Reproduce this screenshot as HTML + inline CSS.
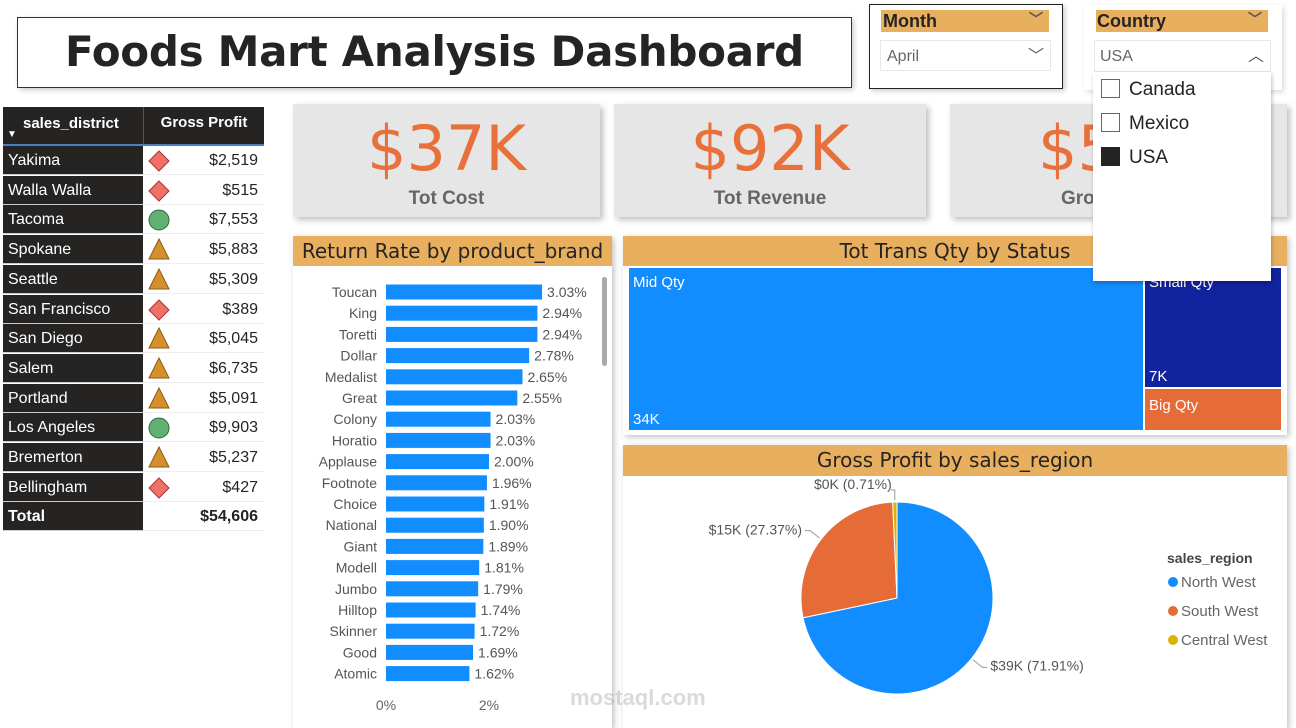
<!DOCTYPE html>
<html><head><meta charset="utf-8"><style>
*{box-sizing:border-box;margin:0;padding:0}
body{width:1296px;height:728px;position:relative;background:#fff;font-family:"Liberation Sans","DejaVu Sans",sans-serif;overflow:hidden}
.abs{position:absolute}
.card{position:absolute;background:#e6e6e6;box-shadow:3px 3px 6px rgba(0,0,0,.25)}
.kv{position:absolute;left:0;right:0;top:8px;text-align:center;color:#E8703A;font-size:62px;font-family:"DejaVu Sans",sans-serif}
.kl{position:absolute;left:0;right:0;top:84px;text-align:center;color:#666;font-size:19px;font-weight:bold}
.hdr{position:absolute;background:#E8AF5F;color:#252423;font-size:20px;text-align:center;line-height:30px;font-family:"DejaVu Sans",sans-serif}
.panel{position:absolute;background:#fff;box-shadow:2px 2px 6px rgba(0,0,0,.25)}
.row{position:absolute;left:0;width:261px;height:30px;font-size:16px}
.rl{position:absolute;left:0;width:140px;height:29px;background:#252423;color:#fff;padding-left:5px;line-height:29px;border-bottom:1px solid #ccc}
.rr{position:absolute;left:140px;width:121px;height:29px;background:#fff;color:#252423;text-align:right;padding-right:6px;line-height:29px;border-bottom:1px solid #eee}
</style></head><body>
<div class="abs" style="left:17px;top:17px;width:835px;height:71px;border:1px solid #333;box-shadow:2px 2px 5px rgba(0,0,0,.2);text-align:center;line-height:68px;font-size:42px;font-weight:bold;color:#252423;font-family:'DejaVu Sans',sans-serif;letter-spacing:-0.3px">Foods Mart Analysis Dashboard</div>

<div class="abs" style="left:869px;top:4px;width:194px;height:85px;border:1px solid #222;box-shadow:2px 2px 5px rgba(0,0,0,.2);background:#fff">
 <div class="abs" style="left:11px;top:5px;width:168px;height:22px;background:#E8AF5F;font-weight:bold;font-size:18px;line-height:22px;padding-left:2px;color:#252423">Month<span style="position:absolute;right:6px;top:-2px;font-size:14px;color:#555">﹀</span></div>
 <div class="abs" style="left:10px;top:35px;width:171px;height:31px;border:1px solid #e8e8e8;color:#666;font-size:16px;line-height:31px;padding-left:6px">April<span style="position:absolute;right:6px;top:0;color:#555">﹀</span></div>
</div>

<div class="abs" style="left:1084px;top:5px;width:198px;height:85px;background:#fff;box-shadow:2px 2px 5px rgba(0,0,0,.15)">
 <div class="abs" style="left:12px;top:5px;width:172px;height:22px;background:#E8AF5F;font-weight:bold;font-size:18px;line-height:22px;padding-left:1px;color:#252423">Country<span style="position:absolute;right:6px;top:-2px;font-size:14px;color:#555">﹀</span></div>
 <div class="abs" style="left:10px;top:35px;width:177px;height:32px;border:1px solid #e8e8e8;color:#666;font-size:16px;line-height:32px;padding-left:5px">USA<span style="position:absolute;right:6px;top:0;color:#555">︿</span></div>
</div>

<div class="card" style="left:293px;top:104px;width:307px;height:113px"><div class="kv">$37K</div><div class="kl">Tot Cost</div></div>
<div class="card" style="left:614px;top:104px;width:312px;height:113px"><div class="kv">$92K</div><div class="kl">Tot Revenue</div></div>
<div class="card" style="left:950px;top:104px;width:337px;height:113px"><div class="kv" style="text-align:left;left:88px">$5</div><div class="kl" style="text-align:left;left:111px">Gro</div></div>

<div class="abs" id="tbl" style="left:3px;top:107px;width:261px;height:424px;background:#fff">
 <div class="abs" style="left:0;top:0;width:261px;height:39px;background:#252423;color:#fff;font-weight:bold;font-size:15px;border-bottom:2px solid #4a7fc1">
  <div class="abs" style="left:20px;top:8px">sales_district</div>
  <div class="abs" style="left:4px;top:22px;font-size:10px">▼</div>
  <div class="abs" style="left:140px;top:0;width:121px;height:37px;border-left:1px solid #555;text-align:center;line-height:32px">Gross Profit</div>
 </div>
</div>

<div class="panel" style="left:293px;top:236px;width:319px;height:492px">
 <div class="hdr" style="left:0;top:0;width:319px;height:30px">Return Rate by product_brand</div>
 <div class="abs" style="left:309px;top:41px;width:5px;height:89px;background:#aaa;border-radius:3px"></div>
 <svg class="abs" id="bars" style="left:0;top:0" width="319" height="492"></svg>
</div>

<div class="panel" style="left:623px;top:236px;width:664px;height:199px">
 <div class="hdr" style="left:0;top:0;width:664px;height:30px">Tot Trans Qty by Status</div>
 <div class="abs" style="left:6px;top:32px;width:514px;height:162px;background:#118DFF;color:#fff;font-size:15px"><span class="abs" style="left:4px;top:6px">Mid Qty</span><span class="abs" style="left:4px;bottom:2px">34K</span></div>
 <div class="abs" style="left:522px;top:32px;width:136px;height:119px;background:#12239E;color:#fff;font-size:15px"><span class="abs" style="left:4px;top:6px">Small Qty</span><span class="abs" style="left:4px;bottom:2px">7K</span></div>
 <div class="abs" style="left:522px;top:153px;width:136px;height:41px;background:#E66C37;color:#fff;font-size:15px"><span class="abs" style="left:4px;top:8px">Big Qty</span></div>
</div>

<div class="panel" style="left:623px;top:445px;width:664px;height:283px">
 <div class="hdr" style="left:0;top:0;width:664px;height:31px">Gross Profit by sales_region</div>
 <svg class="abs" id="pie" style="left:0;top:0" width="664" height="283"></svg>
</div>

<div class="abs" style="left:1093px;top:72px;width:178px;height:209px;background:#fff;box-shadow:1px 2px 4px rgba(0,0,0,.25);font-size:19px;color:#252423;z-index:10">
 <div class="abs" style="left:8px;top:7px"><span style="display:inline-block;width:19px;height:19px;border:1px solid #666;vertical-align:-3px;margin-right:9px"></span>Canada</div>
 <div class="abs" style="left:8px;top:41px"><span style="display:inline-block;width:19px;height:19px;border:1px solid #666;vertical-align:-3px;margin-right:9px"></span>Mexico</div>
 <div class="abs" style="left:8px;top:75px"><span style="display:inline-block;width:19px;height:19px;background:#252423;vertical-align:-3px;margin-right:9px"></span>USA</div>
</div>
<div class="abs" style="left:570px;top:685px;color:rgba(150,150,150,.35);font-size:22px;font-weight:bold">mostaql.com</div>

<script>
const districts=["Yakima","Walla Walla","Tacoma","Spokane","Seattle","San Francisco","San Diego","Salem","Portland","Los Angeles","Bremerton","Bellingham"];
const profits=[2519,515,7553,5883,5309,389,5045,6735,5091,9903,5237,427];
const total=54606;
const brands=["Toucan","King","Toretti","Dollar","Medalist","Great","Colony","Horatio","Applause","Footnote","Choice","National","Giant","Modell","Jumbo","Hilltop","Skinner","Good","Atomic"];
const rates=[3.03,2.94,2.94,2.78,2.65,2.55,2.03,2.03,2.00,1.96,1.91,1.90,1.89,1.81,1.79,1.74,1.72,1.69,1.62];
const xTicks=[0,2];
const regions=["North West","South West","Central West"];
const regionValues=[39,15,0.39];
const regionLabels=["$39K (71.91%)","$15K (27.37%)","$0K (0.71%)"];
const regionColors=["#118DFF","#E66C37","#D9B300"];
const NS="http://www.w3.org/2000/svg";
function mk(p,t,a){const e=document.createElementNS(NS,t);for(const k in a)e.setAttribute(k,a[k]);p.appendChild(e);return e;}
const tbl=document.getElementById('tbl');
function icon(v){if(v>=7000)return '<svg width="22" height="22" style="position:absolute;left:5px;top:4px"><circle cx="11" cy="11" r="10" fill="#5fb173" stroke="#2e6b3c"/></svg>';
 if(v>=3000)return '<svg width="22" height="22" style="position:absolute;left:5px;top:3px"><polygon points="11,1 21,21 1,21" fill="#d6902b" stroke="#8a5b14"/></svg>';
 return '<svg width="22" height="22" style="position:absolute;left:5px;top:4px"><polygon points="11,1 21,11 11,21 1,11" fill="#f07166" stroke="#a33"/></svg>';}
districts.forEach((d,i)=>{const r=document.createElement('div');r.className='row';r.style.top=(39+i*29.7)+'px';


r.innerHTML='<div class="rl">'+d+'</div><div class="rr">'+icon(profits[i])+'$'+profits[i].toLocaleString('en-US')+'</div>';tbl.appendChild(r);});
const tr=document.createElement('div');tr.className='row';tr.style.top=(39+12*29.7)+'px';


tr.innerHTML='<div class="rl" style="font-weight:bold">Total</div><div class="rr" style="font-weight:bold">$'+total.toLocaleString('en-US')+'</div>';tbl.appendChild(tr);
const bs=document.getElementById('bars');
const x0=93,pxPer=51.5;const xs=v=>x0+v*pxPer;const ys=i=>56+i*21.2;
brands.forEach((b,i)=>{
 const r=mk(bs,'rect',{x:x0,y:ys(i)-7.5,width:xs(rates[i])-x0,height:15,fill:'#118DFF'});
 
 
 const t=mk(bs,'text',{x:84,y:ys(i)+5,'text-anchor':'end','font-size':14,fill:'#555'});t.textContent=b;
 const v=mk(bs,'text',{x:xs(rates[i])+5,y:ys(i)+5,'font-size':14,fill:'#555'});v.textContent=rates[i].toFixed(2)+'%';
});
xTicks.forEach(tk=>{const t=mk(bs,'text',{x:xs(tk),y:474,'text-anchor':'middle','font-size':14,fill:'#666'});t.textContent=tk+'%';

});
const ps=document.getElementById('pie');
const cx=274,cy=153,R=96;const sum=regionValues.reduce((a,b)=>a+b,0);
let a0=0;const pt=(a,r)=>[cx+r*Math.sin(a),cy-r*Math.cos(a)];
regionValues.forEach((v,i)=>{const a1=a0+v/sum*2*Math.PI;const p0=pt(a0,R),p1=pt(a1,R);
 const s=mk(ps,'path',{d:`M${cx},${cy}L${p0[0]},${p0[1]}A${R},${R} 0 ${a1-a0>Math.PI?1:0} 1 ${p1[0]},${p1[1]}Z`,fill:regionColors[i],stroke:'#fff','stroke-width':1});
 
 
 const m=(a0+a1)/2;const q0=pt(m,R+2),q1=pt(m,R+14);
 let lx,ly,anchor;
 if(i===0){lx=q1[0]+8;ly=q1[1]+3;anchor='start';mk(ps,'polyline',{points:`${q0[0]},${q0[1]} ${q1[0]},${q1[1]} ${q1[0]+5},${q1[1]}`,fill:'none',stroke:'#999'});}
 else if(i===1){lx=q1[0]-8;ly=q1[1]+4;anchor='end';mk(ps,'polyline',{points:`${q0[0]},${q0[1]} ${q1[0]},${q1[1]} ${q1[0]-5},${q1[1]}`,fill:'none',stroke:'#999'});}
 else{const q2=[q0[0],cy-R-12];lx=q2[0]-3;ly=q2[1]-1;anchor='end';mk(ps,'polyline',{points:`${q0[0]},${q0[1]} ${q2[0]},${q2[1]} ${q2[0]-4},${q2[1]}`,fill:'none',stroke:'#999'});}
 const t=mk(ps,'text',{x:lx,y:ly,'text-anchor':anchor,'font-size':14,fill:'#555'});t.textContent=regionLabels[i];
 a0=a1;});
const lt=mk(ps,'text',{x:544,y:118,'font-size':14,'font-weight':'bold',fill:'#444'});lt.textContent='sales_region';
regions.forEach((r,i)=>{mk(ps,'circle',{cx:550,cy:137+i*29,r:5,fill:regionColors[i]});
 const t=mk(ps,'text',{x:558,y:142+i*29,'font-size':15,fill:'#666'});t.textContent=r;
 
 });
</script>
</body></html>
